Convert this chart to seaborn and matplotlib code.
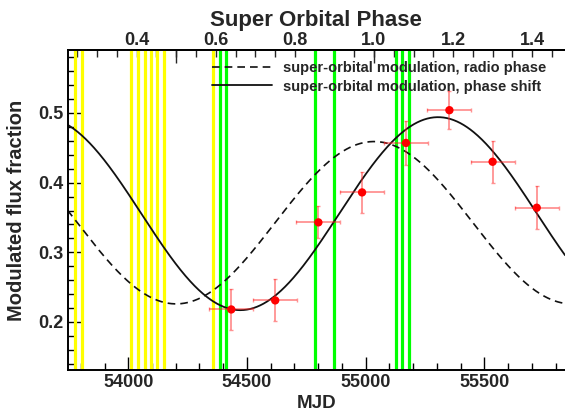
import numpy as np
import pandas as pd
import seaborn as sns
import matplotlib
matplotlib.use("Agg")
import matplotlib.pyplot as plt
from matplotlib.ticker import MultipleLocator, FixedLocator, NullFormatter

# Super-orbital ephemeris (MJD zero point and period in days)
T0_MJD = 43366.275
P_SO = 1667.0
PHASE_OFFSET = 6.0

# Binned modulated flux fraction
bin_mjd = [54434, 54619, 54801, 54985, 55170, 55353, 55535, 55721]
bin_mjd_err = [93, 92, 93, 93, 93, 93, 93, 93]
mod_frac = [0.218, 0.231, 0.343, 0.386, 0.457, 0.504, 0.430, 0.364]
mod_frac_err = [0.029, 0.030, 0.023, 0.030, 0.032, 0.027, 0.030, 0.031]

# Observation epochs marked as vertical bands
yellow_mjd = [53777, 53805, 54013, 54043, 54069, 54096, 54123, 54150, 54359]
green_mjd = [54385, 54413, 54785, 54865, 55129, 55155, 55181]

# Sinusoidal super-orbital models: (mean, amplitude, phase of maximum)
radio_model = (0.3425, 0.1165, 1.000)
shift_model = (0.3555, 0.1385, 1.162)

x_lim = (53744, 55840)
y_lim = (0.1311, 0.5904)


def to_phase(mjd):
    return (np.asarray(mjd, dtype=float) - T0_MJD) / P_SO - PHASE_OFFSET


def to_mjd(phase):
    return (np.asarray(phase, dtype=float) + PHASE_OFFSET) * P_SO + T0_MJD


def sine_model(mjd, params):
    mean, amp, peak = params
    return mean + amp * np.cos(2 * np.pi * (to_phase(mjd) - peak))


sns.set_theme(style="ticks")
plt.rcParams["font.family"] = ["Liberation Sans", "DejaVu Sans"]
plt.rcParams["font.weight"] = "bold"
plt.rcParams["axes.labelweight"] = "bold"

fig = plt.figure(figsize=(5.65, 4.11), dpi=100)
ax = fig.add_axes([67.5 / 565, 41 / 411, 497.5 / 565, 320 / 411])

for m in yellow_mjd:
    ax.axvline(m, color="#ffff00", lw=2.3, zorder=1)
for m in green_mjd:
    ax.axvline(m, color="#00ff00", lw=2.3, zorder=1)

grid = np.linspace(x_lim[0], x_lim[1], 600)
curves = pd.DataFrame({
    "MJD": grid,
    "radio": sine_model(grid, radio_model),
    "shift": sine_model(grid, shift_model),
})
sns.lineplot(data=curves, x="MJD", y="radio", ax=ax, color="#111111", lw=1.2,
             linestyle=(0, (4.6, 3.0)),
             label="super-orbital modulation, radio phase", zorder=2)
sns.lineplot(data=curves, x="MJD", y="shift", ax=ax, color="#111111", lw=1.3,
             label="super-orbital modulation, phase shift", zorder=2)

ax.errorbar(bin_mjd, mod_frac, xerr=bin_mjd_err, yerr=mod_frac_err, fmt="none",
            ecolor=(1.0, 0.15, 0.15, 0.5), elinewidth=1.3, capsize=1.5, capthick=1.0,
            zorder=3)
points = pd.DataFrame({"MJD": bin_mjd, "frac": mod_frac})
sns.scatterplot(data=points, x="MJD", y="frac", ax=ax, color="red", s=36,
                edgecolor="none", zorder=4)

ax.set_xlim(*x_lim)
ax.set_ylim(*y_lim)

ax.xaxis.set_major_locator(MultipleLocator(500))
ax.xaxis.set_minor_locator(MultipleLocator(100))
ax.yaxis.set_major_locator(MultipleLocator(0.1))
ax.yaxis.set_minor_locator(MultipleLocator(0.02))
ax.tick_params(which="both", direction="in", width=1.0, color="black",
               labelsize=13, top=False, right=False)
ax.tick_params(which="major", length=9.5)
ax.tick_params(which="minor", length=5)
ax.tick_params(axis="x", pad=2.8)
ax.tick_params(axis="y", pad=3)

for side in ("left", "bottom", "top"):
    ax.spines[side].set_linewidth(1.4)
    ax.spines[side].set_color("black")
ax.spines["right"].set_visible(False)

ax.set_xlabel("MJD", fontsize=13.5, fontweight="bold", labelpad=3)
ax.set_ylabel("Modulated flux fraction", fontsize=14.5, fontweight="bold", labelpad=9)

# Phase axis along the top
top = ax.secondary_xaxis("top", functions=(to_phase, to_mjd))
top.xaxis.set_major_locator(FixedLocator([0.4, 0.6, 0.8, 1.0, 1.2, 1.4]))
top.xaxis.set_minor_locator(MultipleLocator(0.05))
top.tick_params(which="both", direction="in", length=5, width=1.0,
                labelsize=13, pad=0.5)
top.set_xlabel("Super Orbital Phase", fontsize=16, fontweight="bold", labelpad=4.5)
top.spines["top"].set_linewidth(1.4)

top_long = ax.secondary_xaxis("top", functions=(to_phase, to_mjd))
top_long.xaxis.set_major_locator(FixedLocator([0.5, 1.0, 1.5]))
top_long.xaxis.set_major_formatter(NullFormatter())
top_long.xaxis.set_minor_locator(FixedLocator([]))
top_long.tick_params(which="major", direction="in", length=9.5, width=1.0)
top_long.spines["top"].set_visible(False)

leg = ax.legend(loc="upper left", bbox_to_anchor=((212 - 67.5) / 497.5, 0.965),
                frameon=False, fontsize=10.5, handlelength=4.1,
                handletextpad=0.75, labelspacing=0.3, borderpad=0,
                borderaxespad=0)
for txt in leg.get_texts():
    txt.set_fontweight("bold")

fig.savefig("out.png", dpi=100)
